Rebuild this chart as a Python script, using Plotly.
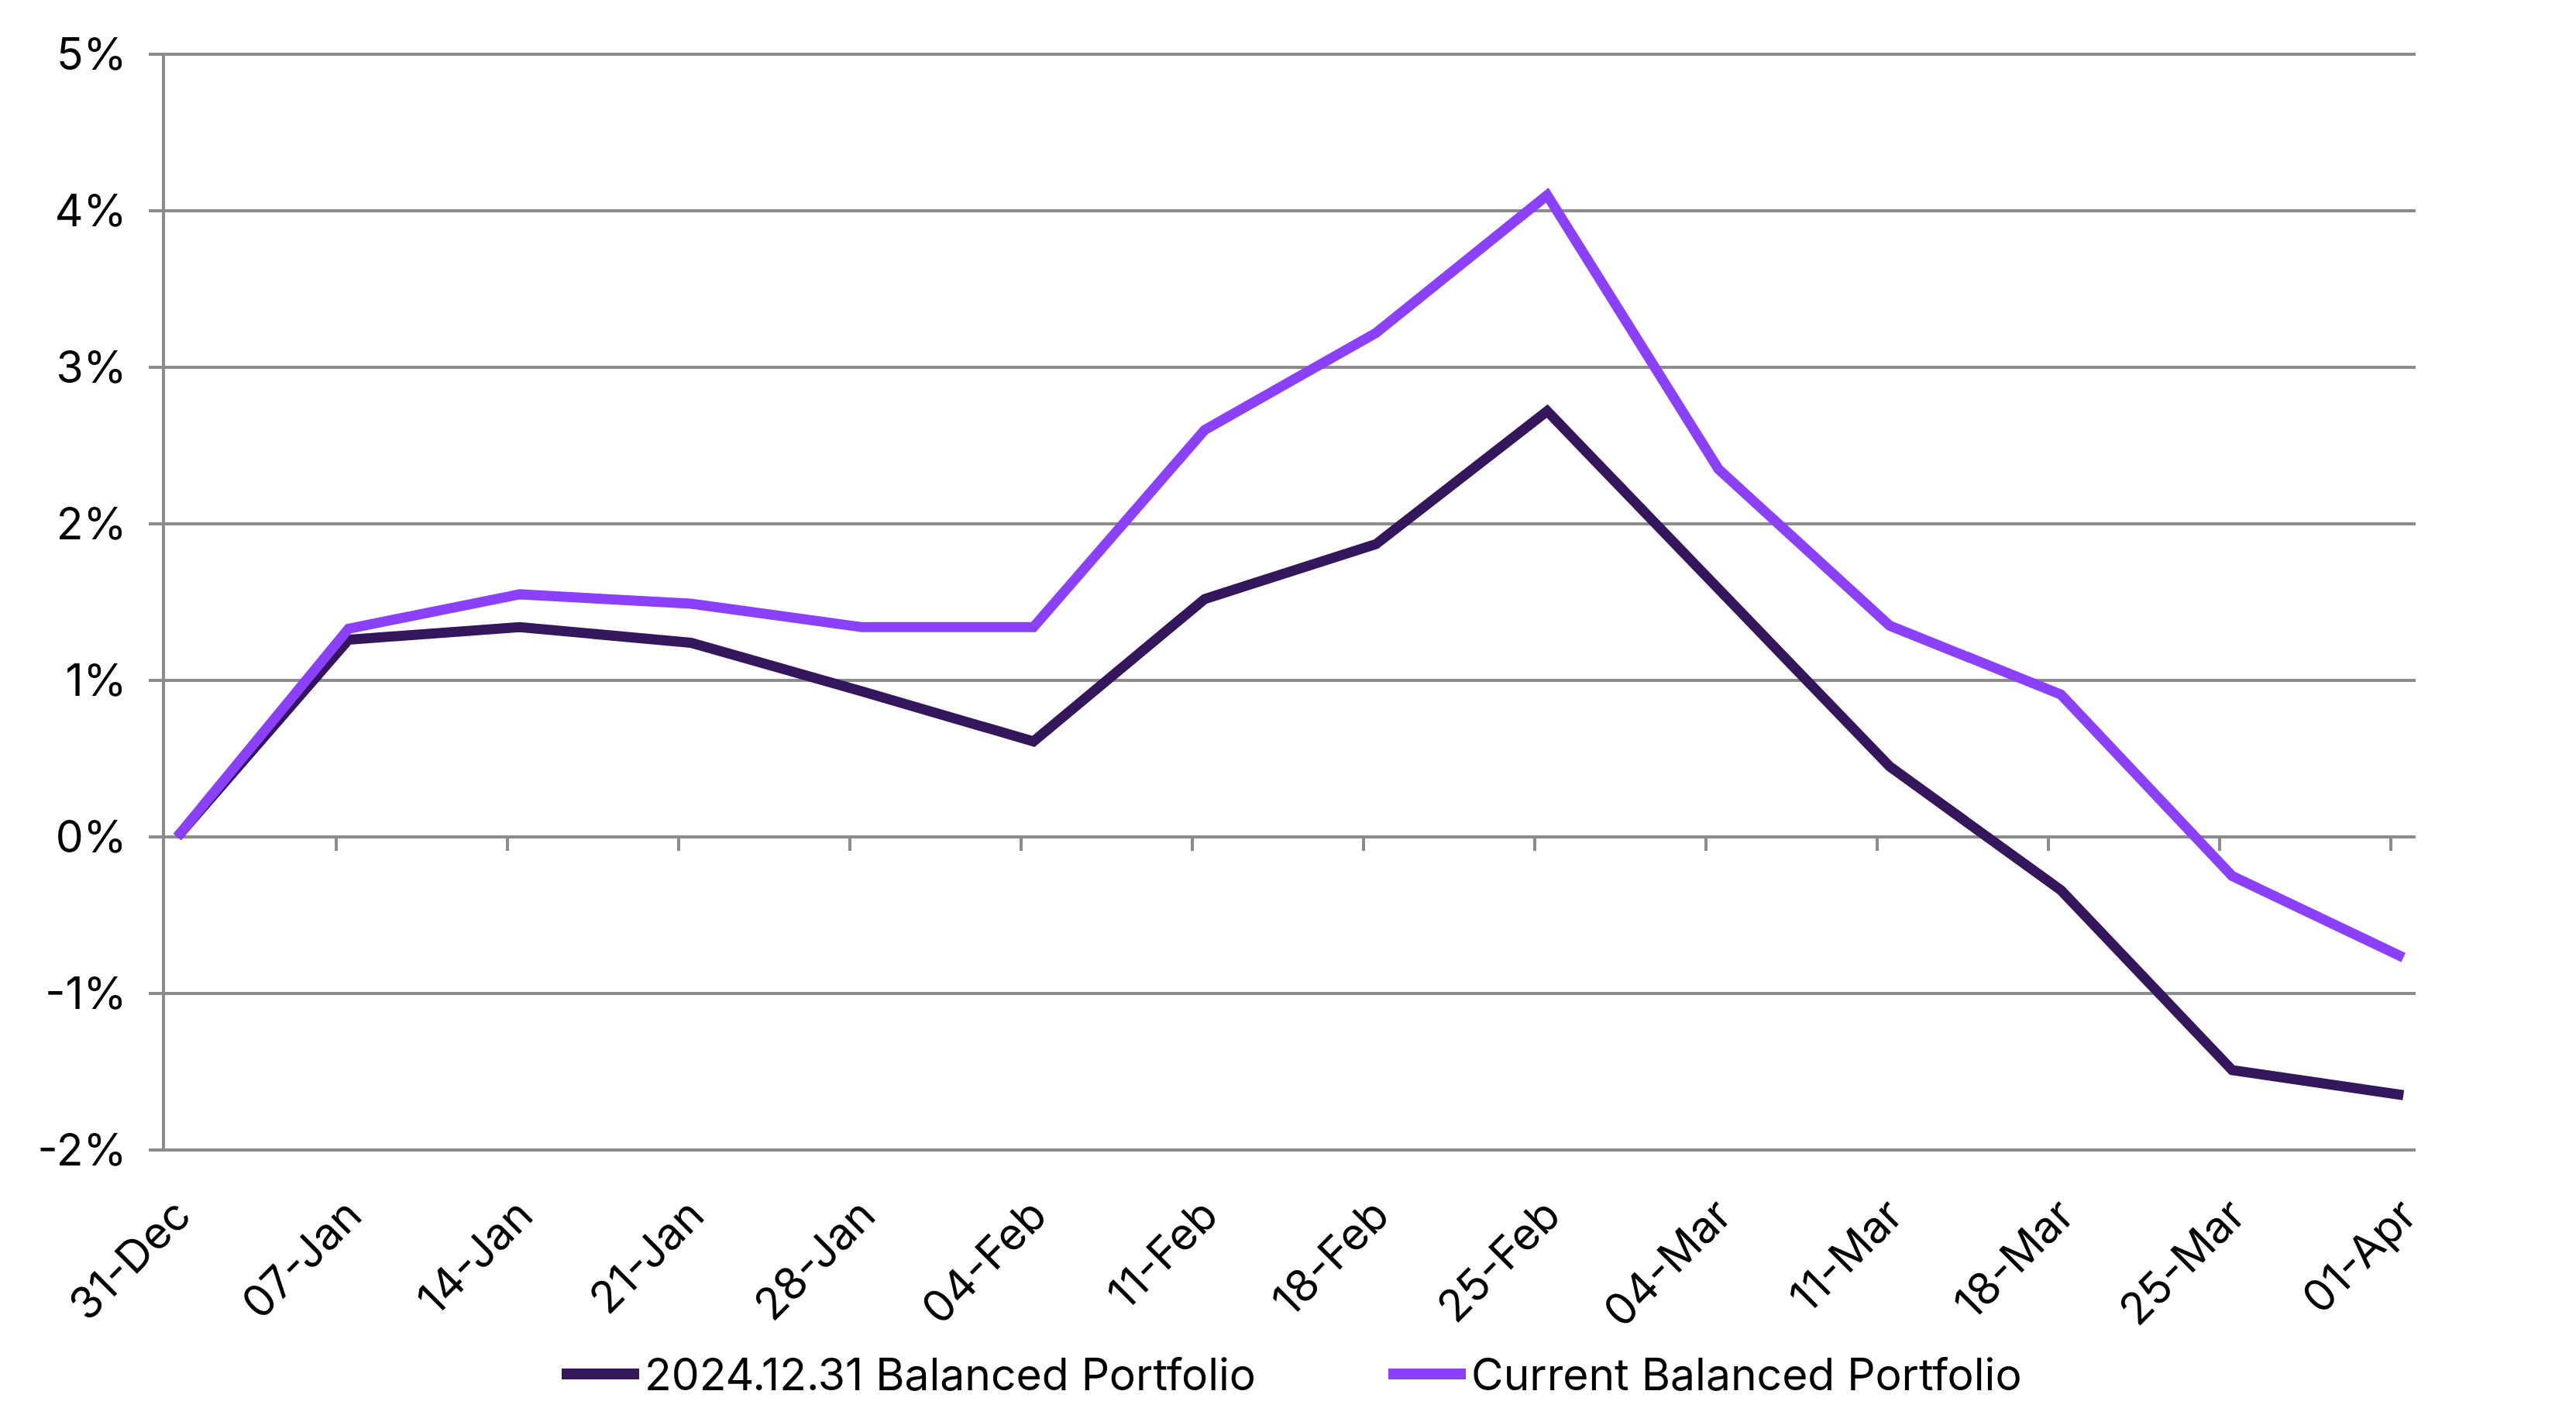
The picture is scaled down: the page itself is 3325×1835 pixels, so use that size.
import pandas as pd
import plotly.graph_objects as go

# weekly observation dates and cumulative returns (%)
dates = ["2024-12-31", "2025-01-07", "2025-01-14", "2025-01-21", "2025-01-28",
         "2025-02-04", "2025-02-11", "2025-02-18", "2025-02-25", "2025-03-04",
         "2025-03-11", "2025-03-18", "2025-03-25", "2025-04-01"]
balanced_2024 = [0.00, 1.26, 1.34, 1.24, 0.93, 0.61, 1.52, 1.87, 2.72, 1.58,
                 0.45, -0.34, -1.49, -1.65]
balanced_current = [0.00, 1.33, 1.55, 1.49, 1.34, 1.34, 2.60, 3.22, 4.10, 2.35,
                    1.35, 0.91, -0.25, -0.77]
series_names = ["2024.12.31 Balanced Portfolio", "Current Balanced Portfolio"]
series_colors = ["#33165C", "#8B40FB"]
y_ticks = [-2, -1, 0, 1, 2, 3, 4, 5]
y_labels = [f"{v}%" for v in y_ticks]

FONT = "Inter"
FS = 57
GRID = "#8C8C8C"
W, H = 3325, 1835
OFF = 8  # page body margin pushes the figure right/down by this much
M_L, M_R, M_T, M_B = 213 - OFF, 207 + OFF, 68 - OFF, 349 + OFF

x = pd.to_datetime(dates)
half_day = pd.Timedelta(hours=12)
x_range = [x[0] - half_day, x[-1] + half_day]
# tiny pad so plotly keeps the gridlines sitting on both range ends
pad = 0.01
y_range = [y_ticks[0] - pad, y_ticks[-1] + pad]

fig = go.Figure()
for vals, name, color in zip([balanced_2024, balanced_current], series_names, series_colors):
    fig.add_trace(go.Scatter(x=x, y=vals, name=name, mode="lines",
                             line=dict(color=color, width=13),
                             showlegend=False))

# carrier trace for the category-boundary tick marks on the 0% line
fig.add_trace(go.Scatter(x=x, y=balanced_2024, xaxis="x2", mode="lines",
                         line=dict(width=0), opacity=0, showlegend=False,
                         hoverinfo="skip"))

fig.update_layout(
    width=W, height=H, autosize=False,
    margin=dict(l=M_L, r=M_R, t=M_T, b=M_B),
    plot_bgcolor="white", paper_bgcolor="white",
    font=dict(family=FONT, size=FS, color="black"),
    xaxis=dict(type="date", range=x_range, tickvals=x, tickformat="%d-%b",
               tickangle=-45, ticks="", showgrid=False, showline=False,
               zeroline=False, ticklabelstandoff=36,
               tickfont=dict(family=FONT, size=FS)),
    xaxis2=dict(type="date", overlaying="x", matches="x", anchor="free",
                position=(0 - y_range[0]) / (y_range[1] - y_range[0]),
                tickvals=x[1:] - half_day, ticks="outside", ticklen=17,
                tickwidth=4, tickcolor=GRID, showticklabels=False,
                showgrid=False, showline=False, zeroline=False),
    yaxis=dict(range=y_range, tickvals=y_ticks, ticktext=y_labels,
               showgrid=True, gridcolor=GRID, gridwidth=4,
               showline=True, linecolor=GRID, linewidth=4,
               ticks="outside", ticklen=17, tickwidth=4, tickcolor=GRID,
               zeroline=False, ticklabelstandoff=17,
               tickfont=dict(family=FONT, size=FS)),
)

# legend drawn by hand so the line samples match the long Excel style keys
plot_w = W - M_L - M_R
plot_h = H - M_T - M_B
leg_y = (H - M_B - (1773 - OFF)) / plot_h
for name, color, x0 in zip(series_names, series_colors, [725, 1792]):
    p0 = (x0 - OFF - M_L) / plot_w
    p1 = (x0 - OFF + 100 - M_L) / plot_w
    fig.add_shape(type="line", xref="paper", yref="paper", x0=p0, x1=p1,
                  y0=leg_y, y1=leg_y, line=dict(color=color, width=14))
    fig.add_annotation(xref="paper", yref="paper", x=p1 + 5 / plot_w, y=leg_y,
                       text=name, showarrow=False, xanchor="left",
                       yanchor="middle", font=dict(family=FONT, size=FS))

fig.write_html("out.html")
